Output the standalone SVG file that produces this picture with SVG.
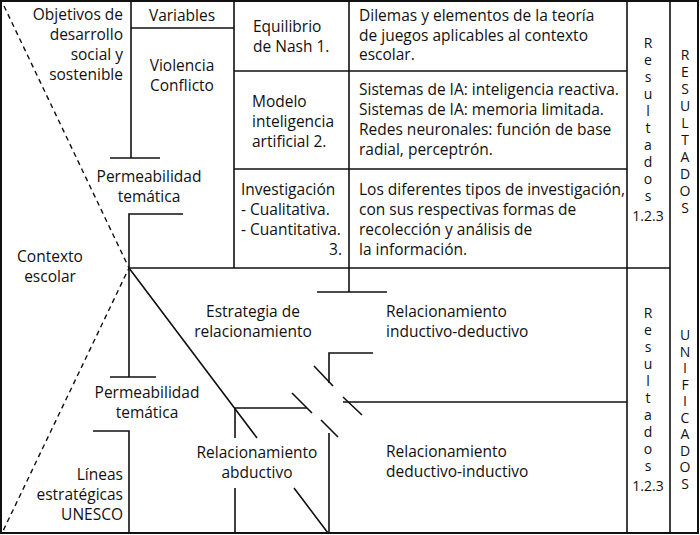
<svg xmlns="http://www.w3.org/2000/svg" width="700" height="535" viewBox="0 0 700 535">
<style>
.l{stroke:#111;stroke-width:1.6;fill:none;stroke-linecap:butt}
.d{stroke:#111;stroke-width:1.4;fill:none;stroke-dasharray:5 4}
text{font-family:"Open Sans","Noto Sans","DejaVu Sans",sans-serif;font-size:15.5px;fill:#111}
.m{text-anchor:middle}
.e{text-anchor:end}
.v{font-size:14px;text-anchor:middle}
</style>
<rect x="0" y="0" width="700" height="535" fill="#fff"/>
<g id="connectors">
<rect class="l" x="1" y="1" width="697" height="532" style="stroke-width:2"/>
<path class="d" d="M4,6 L129,268 L3,531"/>
<path class="l" d="M131,0 V158 M110,158 H160"/>
<path class="l" d="M131,28 H234"/>
<path class="l" d="M234,0 V268 M349,0 V268"/>
<path class="l" d="M234,71 H627 M234,169 H627"/>
<path class="l" d="M129,268 H670"/>
<path class="l" d="M627,0 V533 M670,0 V533"/>
<path class="l" d="M183,214 H129 V377 M110,377 H156"/>
<path class="l" d="M93,431 H129 V533"/>
<path class="l" d="M349,268 V292 M317,292 H387"/>
<path class="l" d="M129,268 L257,438 M294,488 L328,533"/>
<path class="l" d="M235,533 V488 M235,438 V408 H307"/>
<path class="l" d="M329,533 V433 M329,383 V353 H373"/>
<path class="l" d="M343,402 H627"/>
<path class="l" d="M314,366 L333,386 M343,397 L362,415 M292,393 L312,413 M321,420 L338,437"/>
</g>
<g id="n-objetivos"><text class="e" x="123" y="20">Objetivos de</text><text class="e" x="123" y="40">desarrollo</text><text class="e" x="123" y="60">social y</text><text class="e" x="123" y="80">sostenible</text></g>
<g id="n-variables"><text class="m" x="182" y="21">Variables</text></g>
<g id="n-violencia"><text class="m" x="182" y="71">Violencia</text><text class="m" x="182" y="91">Conflicto</text></g>
<g id="n-perm1"><text class="m" x="149" y="182">Permeabilidad</text><text class="m" x="149" y="202">temática</text></g>
<g id="n-contexto"><text class="m" x="50" y="262">Contexto</text><text class="m" x="50" y="282">escolar</text></g>
<g id="n-nash"><text x="253" y="32">Equilibrio</text><text x="253" y="52">de Nash 1.</text></g>
<g id="n-dilemas"><text x="359" y="21">Dilemas y elementos de la teoría</text><text x="359" y="41">de juegos aplicables al contexto</text><text x="359" y="60">escolar.</text></g>
<g id="n-modelo"><text x="252" y="107">Modelo</text><text x="252" y="127">inteligencia</text><text x="252" y="147">artificial 2.</text></g>
<g id="n-sistemas"><text x="359" y="95">Sistemas de IA: inteligencia reactiva.</text><text x="359" y="115">Sistemas de IA: memoria limitada.</text><text x="359" y="135">Redes neuronales: función de base</text><text x="359" y="155">radial, perceptrón.</text></g>
<g id="n-investigacion"><text x="241" y="195">Investigación</text><text x="241" y="215">- Cualitativa.</text><text x="241" y="235">- Cuantitativa.</text><text class="e" x="342" y="255">3.</text></g>
<g id="n-tipos"><text x="359" y="195">Los diferentes tipos de investigación,</text><text x="359" y="215">con sus respectivas formas de</text><text x="359" y="235">recolección y análisis de</text><text x="359" y="255">la información.</text></g>
<g id="n-estrategia"><text class="m" x="253" y="317">Estrategia de</text><text class="m" x="253" y="337">relacionamiento</text></g>
<g id="n-perm2"><text class="m" x="147" y="398">Permeabilidad</text><text class="m" x="147" y="418">temática</text></g>
<g id="n-lineas"><text class="e" x="123" y="480">Líneas</text><text class="e" x="123" y="500">estratégicas</text><text class="e" x="123" y="520">UNESCO</text></g>
<g id="n-abductivo"><text class="m" x="257" y="458">Relacionamiento</text><text class="m" x="257" y="478">abductivo</text></g>
<g id="n-ind-ded"><text x="386" y="317">Relacionamiento</text><text x="386" y="337">inductivo-deductivo</text></g>
<g id="n-ded-ind"><text x="386" y="457">Relacionamiento</text><text x="386" y="477">deductivo-inductivo</text></g>
<g id="n-res1"><text class="v" x="648"><tspan x="648" y="48">R</tspan><tspan x="648" y="65">e</tspan><tspan x="648" y="82">s</tspan><tspan x="648" y="99">u</tspan><tspan x="648" y="116">l</tspan><tspan x="648" y="133">t</tspan><tspan x="648" y="150">a</tspan><tspan x="648" y="167">d</tspan><tspan x="648" y="184">o</tspan><tspan x="648" y="201">s</tspan><tspan x="648" y="221">1.2.3</tspan></text></g>
<g id="n-resultados"><text class="v" x="685"><tspan x="685" y="60">R</tspan><tspan x="685" y="77">E</tspan><tspan x="685" y="94">S</tspan><tspan x="685" y="111">U</tspan><tspan x="685" y="128">L</tspan><tspan x="685" y="145">T</tspan><tspan x="685" y="162">A</tspan><tspan x="685" y="179">D</tspan><tspan x="685" y="196">O</tspan><tspan x="685" y="213">S</tspan></text></g>
<g id="n-res2"><text class="v" x="648"><tspan x="648" y="318">R</tspan><tspan x="648" y="335">e</tspan><tspan x="648" y="352">s</tspan><tspan x="648" y="369">u</tspan><tspan x="648" y="386">l</tspan><tspan x="648" y="403">t</tspan><tspan x="648" y="420">a</tspan><tspan x="648" y="437">d</tspan><tspan x="648" y="454">o</tspan><tspan x="648" y="471">s</tspan><tspan x="648" y="491">1.2.3</tspan></text></g>
<g id="n-unificados"><text class="v" x="685"><tspan x="685" y="340">U</tspan><tspan x="685" y="356.5">N</tspan><tspan x="685" y="373">I</tspan><tspan x="685" y="389.5">F</tspan><tspan x="685" y="406">I</tspan><tspan x="685" y="422.5">C</tspan><tspan x="685" y="439">A</tspan><tspan x="685" y="455.5">D</tspan><tspan x="685" y="472">O</tspan><tspan x="685" y="488.5">S</tspan></text></g>
</svg>
